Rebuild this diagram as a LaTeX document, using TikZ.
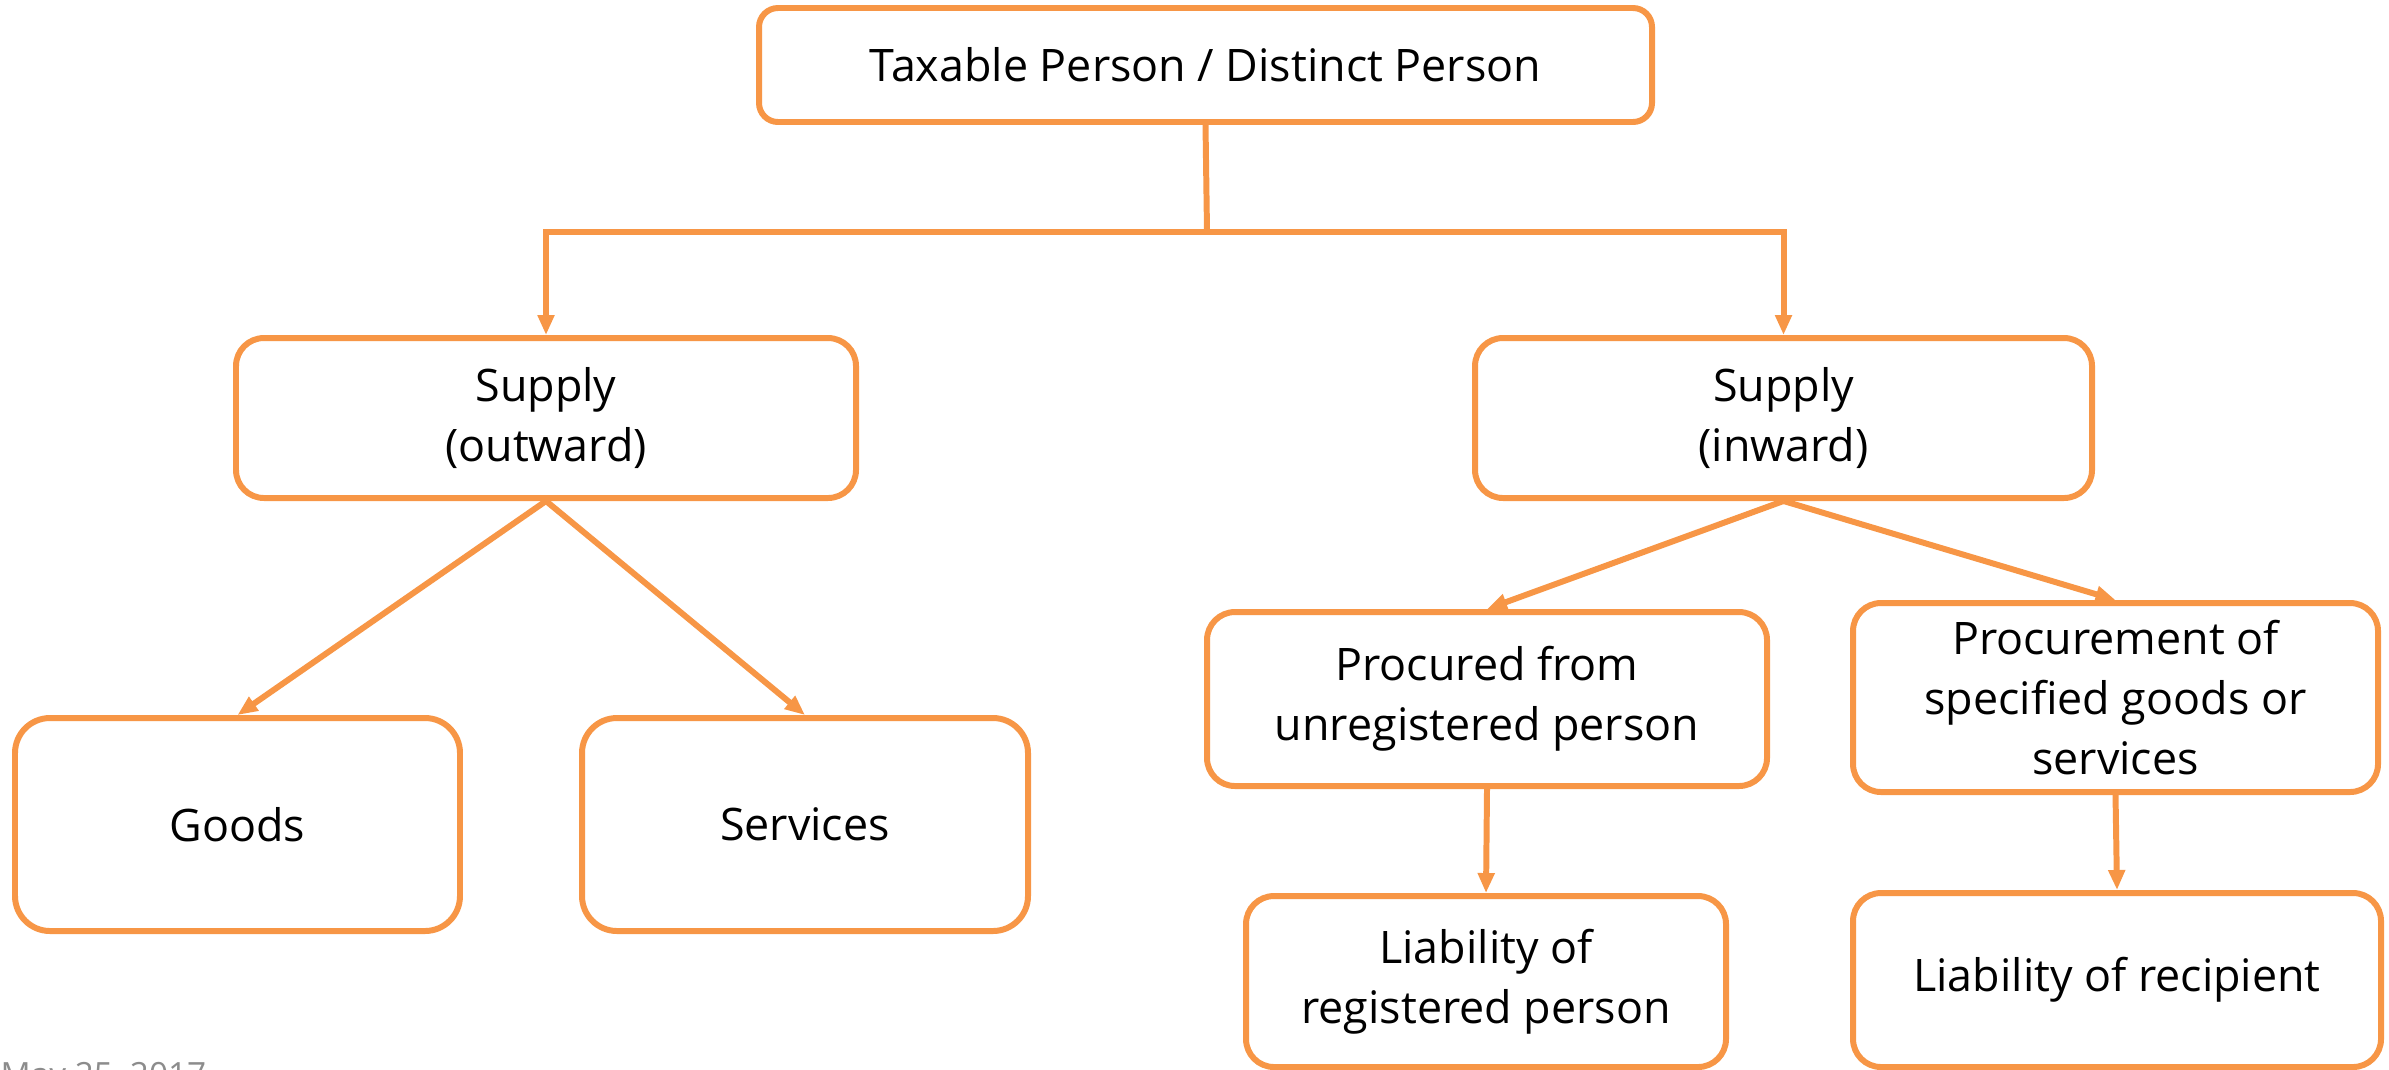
\documentclass[tikz,border=0pt]{standalone}
\usepackage{fontspec}
\setmainfont{Open Sans}
\usetikzlibrary{arrows.meta}
\definecolor{boxorange}{HTML}{F79646}
\definecolor{dategray}{HTML}{8C8C8C}
\tikzset{
    blk/.style={draw=boxorange, line width=1.7pt, rounded corners=2.8mm, fill=white,
        align=center, inner sep=0pt, font=\fontsize{12.75}{17}\selectfont},
    arr/.style={draw=boxorange, line width=1.7pt, -{Triangle[length=2mm, width=1.6mm]}},
    plainline/.style={draw=boxorange, line width=1.7pt}
}
\begin{document}
\begin{tikzpicture}[x=0.1mm, y=-0.1mm]
        \useasboundingbox (0,0) rectangle (2389,1069);
        % boxes
        \node[blk, rounded corners=1.9mm, minimum width=89.3mm, minimum height=11.4mm] (top) at (1205.5, 65) {Taxable Person / Distinct Person};
        \node[blk, minimum width=62mm, minimum height=16mm] (outw) at (546, 418) {Supply\\(outward)};
        \node[blk, minimum width=61.7mm, minimum height=16mm] (inw) at (1783.5, 418) {Supply\\(inward)};
        \node[blk, rounded corners=3.5mm, minimum width=44.5mm, minimum height=21.3mm] (goods) at (237.5, 824.5) {Goods};
        \node[blk, rounded corners=3.5mm, minimum width=44.6mm, minimum height=21.3mm] (serv) at (805, 824.5) {Services};
        \node[blk, minimum width=56mm, minimum height=17.4mm] (procu) at (1487, 699) {Procured from\\unregistered person};
        \node[blk, minimum width=52.5mm, minimum height=18.9mm] (procm) at (2115.5, 697.5) {Procurement of\\specified goods or\\services};
        \node[blk, minimum width=48mm, minimum height=17.1mm] (liabr) at (1486, 981.5) {Liability of\\registered person};
        \node[blk, minimum width=52.8mm, minimum height=17.4mm] (liabc) at (2117, 980) {Liability of recipient};
        % connectors
        \coordinate (split) at (1207, 232);
        \draw[plainline] (top.south) -- (split);
        \draw[arr] (split) -| (outw.north);
        \draw[arr] (split) -| (inw.north);
        \foreach \a/\b in {outw/goods, outw/serv, inw/procu, inw/procm, procu/liabr, procm/liabc}{
            \draw[arr] (\a.south) -- (\b.north);
        }
        \node[anchor=north west, inner sep=0pt, text=dategray, font=\fontsize{9.5}{11}\selectfont] (date) at (0, 1062) {May 25, 2017};
    \end{tikzpicture}
\end{document}
